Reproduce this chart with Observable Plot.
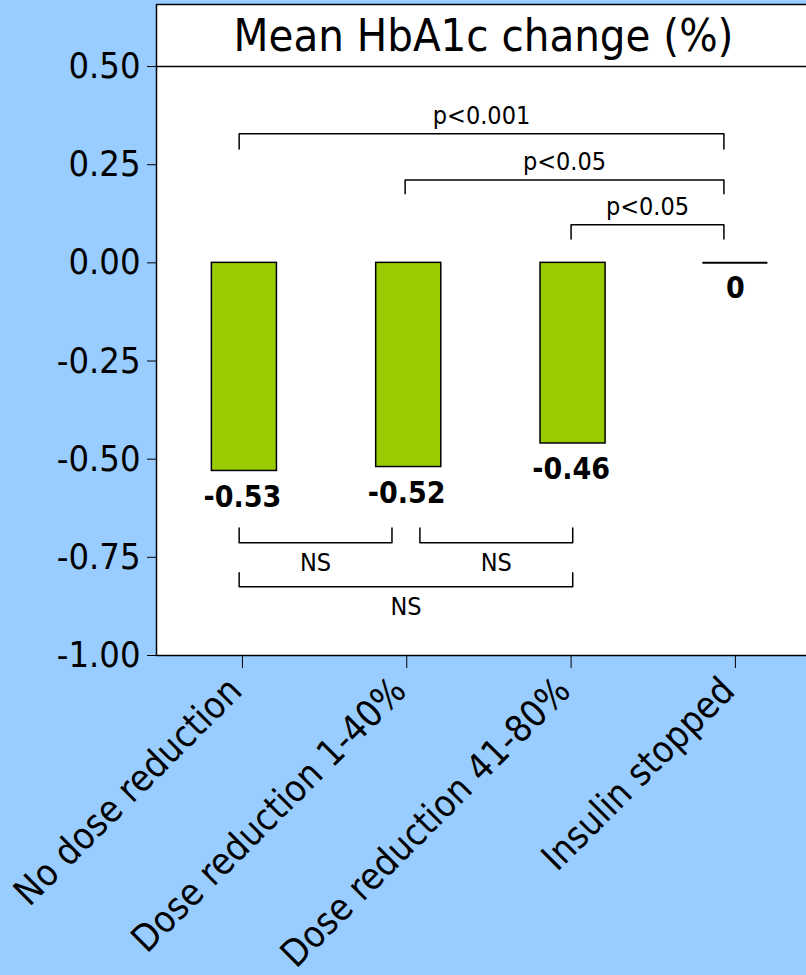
<!DOCTYPE html>
<html><head><meta charset="utf-8">
<script src="https://cdn.jsdelivr.net/npm/d3@7"></script>
<script src="https://cdn.jsdelivr.net/npm/@observablehq/plot@0.6"></script>
<style>
html,body{margin:0;padding:0;background:#99ccff;overflow:hidden;width:806px;height:975px;}
#chart svg{display:block;overflow:visible;max-width:none !important;}
</style></head><body><div id="chart"></div>
<script>
// ---- data ----
const categories = ["No dose reduction", "Dose reduction 1-40%", "Dose reduction 41-80%", "Insulin stopped"];
const meanChange = [-0.53, -0.52, -0.46, 0];
const yTicks = [0.50, 0.25, 0.00, -0.25, -0.50, -0.75, -1.00];
const title = "Mean HbA1c change (%)";
// significance brackets (x in category index units, y in % units)
const bracketLabels = ["p<0.001", "p<0.05", "p<0.05", "NS", "NS", "NS"];
const bracketFrom   = [-0.02, 0.99, 2.00, -0.02, 1.08, -0.02];
const bracketTo     = [ 2.93, 2.93, 2.93,  0.91, 2.01,  2.01];
const bracketLevel  = [0.329, 0.211, 0.097, -0.713, -0.713, -0.825];
const bracketTip    = [0.290, 0.176, 0.061, -0.675, -0.675, -0.789];

// ---- tables ----
const bars = categories.map((c, i) => ({i, category: c, value: meanChange[i]}));
const catIndex = categories.map((c, i) => i);
const hw = 0.198;
const brackets = bracketLabels.map((label, k) => ({k, label, from: bracketFrom[k], to: bracketTo[k], level: bracketLevel[k], tip: bracketTip[k]}));
const bracketPts = brackets.flatMap(b => [
  {k: b.k, x: b.from, y: b.tip},
  {k: b.k, x: b.from, y: b.level},
  {k: b.k, x: b.to, y: b.level},
  {k: b.k, x: b.to, y: b.tip}
]);
const above = brackets.filter(b => b.tip < b.level);
const below = brackets.filter(b => b.tip > b.level);

const chart = Plot.plot({
  width: 812,
  height: 975,
  marginLeft: 156,
  marginRight: 2,
  marginTop: 4,
  marginBottom: 320,
  style: {fontFamily: "'DejaVu Sans Condensed', 'DejaVu Sans', sans-serif", fontSize: "36px", color: "black", background: "transparent", maxWidth: "none"},
  x: {type: "linear", domain: [-0.523, 3.457]},
  y: {domain: [-1.0, 0.658]},
  marks: [
    Plot.frame({fill: "white"}),
    Plot.rectY(bars.filter(d => d.value !== 0), {
      x1: d => d.i - hw + 0.012, x2: d => d.i + hw + 0.012, y1: 0, y2: "value",
      fill: "#99cc00", stroke: "black", strokeWidth: 1.5
    }),
    Plot.ruleY(bars.filter(d => d.value === 0), {
      x1: d => d.i - hw, x2: d => d.i + hw, y: "value", stroke: "black", strokeWidth: 2
    }),
    Plot.text(bars, {
      x: "i", y: "value", text: d => d.value === 0 ? "0" : d.value.toFixed(2),
      dy: 26, fontSize: 30, fontWeight: "bold", fill: "black"
    }),
    Plot.line(bracketPts, {x: "x", y: "y", z: "k", stroke: "black", strokeWidth: 1.5}),
    Plot.text(above, {x: d => (d.from + d.to) / 2, y: "level", text: "label", dy: -18, fontSize: 25, fill: "black"}),
    Plot.text(below, {x: d => (d.from + d.to) / 2, y: "level", text: "label", dy: 20, fontSize: 25, fill: "black"}),
    Plot.ruleY([yTicks[0]], {stroke: "black", strokeWidth: 1.5}),
    Plot.text([title], {frameAnchor: "top", lineAnchor: "middle", dy: 32, fontSize: 45, fill: "black"}),
    Plot.frame({stroke: "black", strokeWidth: 1.5}),
    Plot.axisY({ticks: yTicks, tickFormat: d => d.toFixed(2), tickSize: 9, tickPadding: 7, fontSize: 36, label: null}),
    Plot.axisX({ticks: catIndex, tickFormat: () => "", tickSize: 13, label: null}),
    Plot.axisX({ticks: catIndex, tickFormat: i => categories[i], tickRotate: -45, tickSize: 0, tickPadding: 29, dx: -7, fontSize: 37, label: null})
  ]
});
chart.style.maxWidth = "none";
document.getElementById("chart").appendChild(chart);
</script>
</body></html>
